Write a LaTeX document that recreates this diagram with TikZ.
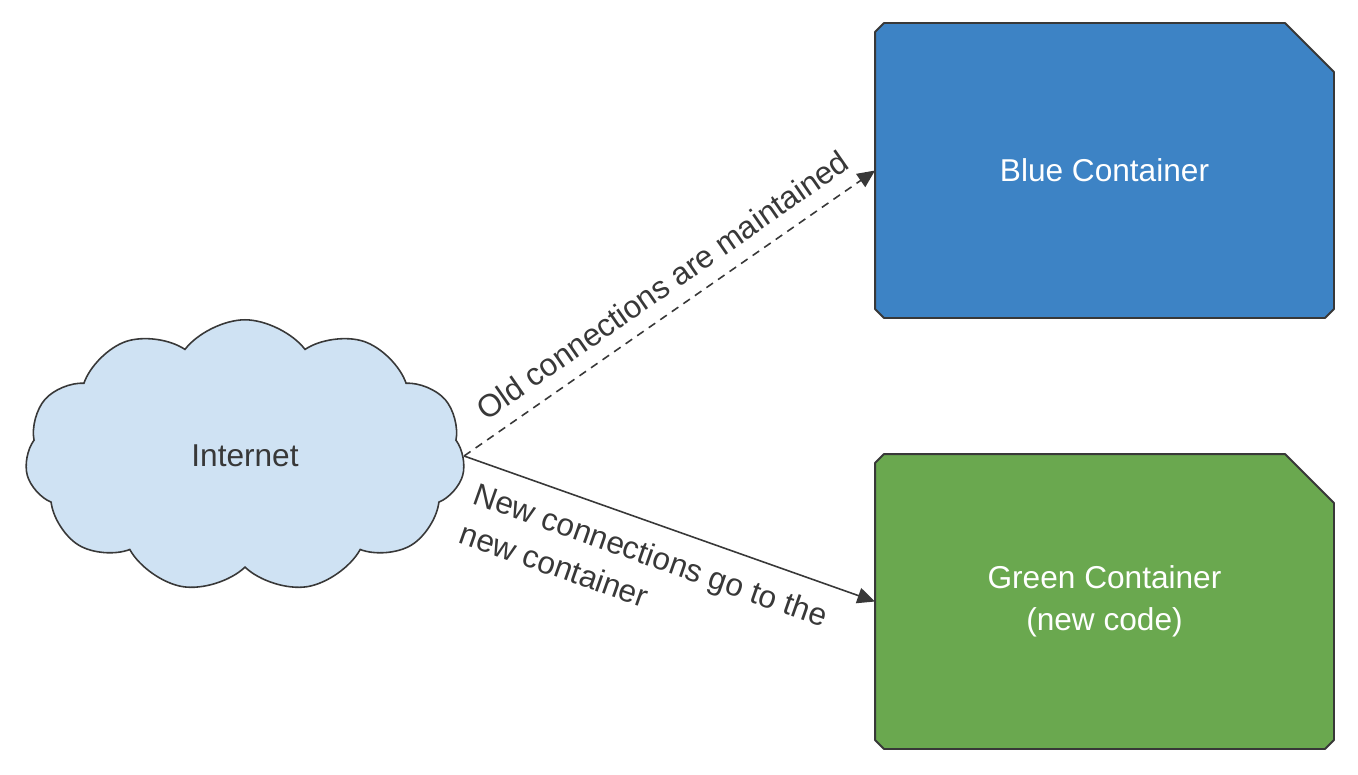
\documentclass[tikz,border=0pt]{standalone}
\usepackage{fontspec}
\setmainfont{Liberation Sans}
\usetikzlibrary{shapes.symbols,arrows.meta,backgrounds}
\definecolor{cloudfill}{HTML}{CFE2F3}
\definecolor{bluefill}{HTML}{3D83C5}
\definecolor{greenfill}{HTML}{6AA84F}
\definecolor{inkgray}{HTML}{383838}
\tikzset{
  container/.style={rectangle, outer sep=0pt, minimum width=9.18cm, minimum height=5.9cm,
    text=white, align=center, font=\fontsize{18}{23.8}\selectfont},
  conn/.style={draw=inkgray, line width=0.9pt, -{Triangle[length=10pt,width=9pt]}},
  connlabel/.style={text=inkgray, sloped, align=left, font=\fontsize{18}{23.8}\selectfont}
}
\newcommand{\chamferbox}[2]{%
  \filldraw[fill=#2, draw=inkgray, line width=1.1pt, line join=round]
    ([xshift=0.18cm]#1.north west) -- ([xshift=-0.98cm]#1.north east)
    -- ([yshift=-0.98cm]#1.north east) -- ([yshift=0.18cm]#1.south east)
    -- ([xshift=-0.18cm]#1.south east) -- ([xshift=0.18cm]#1.south west)
    -- ([yshift=0.18cm]#1.south west) -- ([yshift=-0.18cm]#1.north west) -- cycle;}
\begin{document}
\begin{tikzpicture}[x=0.02cm, y=-0.02cm]
  \useasboundingbox (0,0) rectangle (1358,774);
  \node[cloud, cloud puffs=11, cloud puff arc=105, aspect=1.6, draw=inkgray, fill=cloudfill,
    line width=0.9pt, minimum width=8.8cm, minimum height=5.45cm, text=inkgray,
    font=\fontsize{18}{23.8}\selectfont] (net) at (245,456) {Internet};
  \node[container] (blue) at (1104.5,170.5) {Blue Container};
  \node[container] (green) at (1104.5,601.5) {Green Container\\(new code)};
  \begin{scope}[on background layer]
    \fill[white] (0,0) rectangle (1358,774);
    \chamferbox{blue}{bluefill}
    \chamferbox{green}{greenfill}
  \end{scope}
  \draw[conn, dash pattern=on 4.5pt off 3.5pt] (net.east) --
    node[connlabel, pos=0.52, above=5pt] {Old connections are maintained} (blue.west);
  \draw[conn] (net.east) --
    node[connlabel, pos=0.48, below=7pt] {New connections go to the\\new container} (green.west);
\end{tikzpicture}
\end{document}
